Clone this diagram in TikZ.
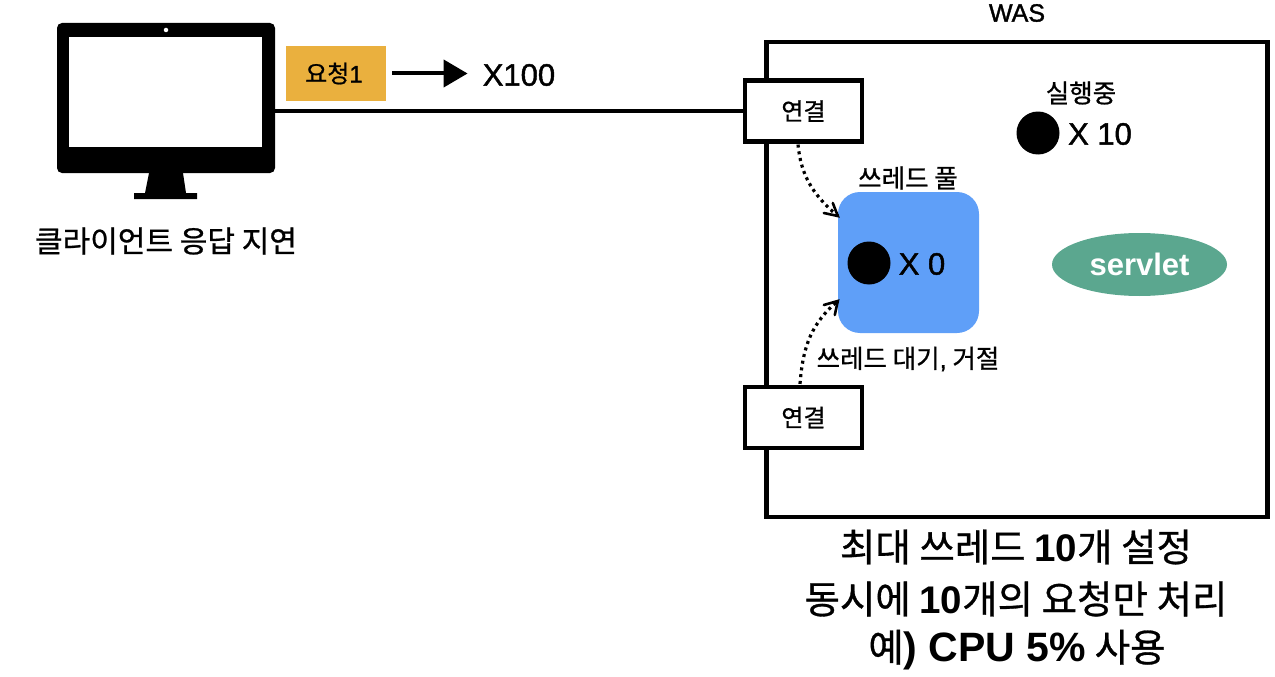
\documentclass[tikz,border=0pt]{standalone}
\usepackage{fontspec}
\setmainfont[RawFeature={embolden=0.8}]{Noto Sans CJK KR}
\newfontfamily\lat[RawFeature={embolden=1.4}]{Liberation Sans}
\newfontfamily\latbase{Liberation Sans}
\newcommand{\latb}{\latbase\bfseries}
\usetikzlibrary{arrows.meta,calc,shapes.geometric}
\definecolor{reqorange}{HTML}{EAB03E}
\definecolor{poolblue}{HTML}{5F9FF8}
\definecolor{servgreen}{HTML}{5BA78F}
\newcommand{\fs}[1]{\fontsize{#1}{#1}\selectfont}
\tikzset{
  x=1pt,y=-1pt,
  thickline/.style={draw=black,line width=3.8pt},
  connbox/.style={draw=black,line width=4.2pt,fill=white,minimum width=116.5pt,minimum height=61pt,inner sep=0pt,font=\fs{24}},
  threaddot/.style={circle,fill=black,minimum size=43pt,inner sep=0pt},
  lab/.style={inner sep=0pt,align=center},
  dotline/.style={line width=3.2pt,dash pattern=on 3pt off 3.8pt},
  barb/.style={line width=2.6pt,line cap=round,line join=miter},
}
\begin{document}
\begin{tikzpicture}
\useasboundingbox (0,0) rectangle (1275,677);
% WAS box
\node[draw=black,line width=4.2pt,minimum width=501pt,minimum height=475pt,inner sep=0pt] (was) at (1017,279.5) {};
\node[lab,font=\lat\fs{25}] (waslabel) at (1017,13) {WAS};
% monitor
\node[fill=black,rounded corners=5pt,minimum width=218pt,minimum height=150pt,inner sep=0pt] (monitor) at (166,98) {};
\node[fill=white,minimum width=193pt,minimum height=110pt,inner sep=0pt] (screen) at (165.5,92) {};
\node[circle,fill=white,minimum size=4.5pt,inner sep=0pt] (camera) at (166,30) {};
\fill[black] (149,173) -- (183,173) -- (186,193) -- (197,193) -- (197,199) -- (134,199) -- (134,193) -- (145,193) -- cycle;
\node[lab,font=\fs{30}] (clientlabel) at (166,241) {클라이언트 응답 지연};
% request
\node[fill=reqorange,minimum width=100pt,minimum height=55pt,inner sep=0pt,font=\fs{24}] (req) at (336,73.5) {\kern-4pt 요청{\lat 1}};
\node[lab,font=\lat\fs{31}] (times) at (519,75) {X100};
\draw[line width=4pt,shorten <=6pt,shorten >=15pt,-{Triangle[length=24pt,width=27pt]}] (req.east) -- (times.west |- req.east);
% connections
\node[connbox] (conn1) at (803.5,111) {연결};
\node[connbox] (conn2) at (803.5,417.5) {연결};
\draw[thickline] (monitor.east |- conn1.west) -- (conn1.west);
% pool
\node[fill=poolblue,rounded corners=22pt,minimum width=141pt,minimum height=141pt,inner sep=0pt] (pool) at (908.5,262.5) {};
\node[threaddot] (pooldot) at (869,263) {};
\node[lab,font=\lat\fs{31}] (poolx) at (922,264) {X 0};
\node[lab,font=\fs{25.5}] (poollabel) at (908,178) {쓰레드 풀};
\node[lab,font=\fs{25.5}] (waitlabel) at (908,359) {쓰레드 대기{\lat ,} 거절};
\coordinate (tipa) at ([yshift=46.5pt]pool.west);
\coordinate (tipb) at ([yshift=-38.5pt]pool.west);
\draw[dotline] ([xshift=-5.5pt,yshift=-1pt]conn1.south) .. controls (801,175) and (812,194) .. (tipa);
\draw[barb] ([xshift=-14pt,yshift=3pt]tipa) -- (tipa) -- ([xshift=-5pt,yshift=13pt]tipa);
\draw[dotline] ([xshift=-3.5pt,yshift=1pt]conn2.north) .. controls (803,345) and (812,323) .. (tipb);
\draw[barb] ([xshift=-14pt,yshift=-4pt]tipb) -- (tipb) -- ([xshift=-3pt,yshift=-14pt]tipb);
% running
\node[lab,font=\fs{25.5}] (runlabel) at (1081,93) {실행중};
\node[threaddot] (rundot) at (1038,133) {};
\node[lab,font=\lat\fs{31}] (runx) at (1100,134) {X 10};
% servlet
\node[ellipse,fill=servgreen,minimum width=175pt,minimum height=63pt,inner sep=0pt,text=white,font=\latb\fs{31}] (servlet) at (1139.5,264.5) {servlet};
% bottom
\node[lab,font=\fs{38.5}] (note1) at (1016,547) {최대 쓰레드 {\latb 10}개 설정};
\node[lab,font=\fs{38.5}] (note2) at (1016,599) {동시에 {\latb 10}개의 요청만 처리};
\node[lab,font=\fs{38.5}] (note3) at (1017,650) {예{\latb\fs{41}) CPU 5\%} 사용};
\end{tikzpicture}
\end{document}
